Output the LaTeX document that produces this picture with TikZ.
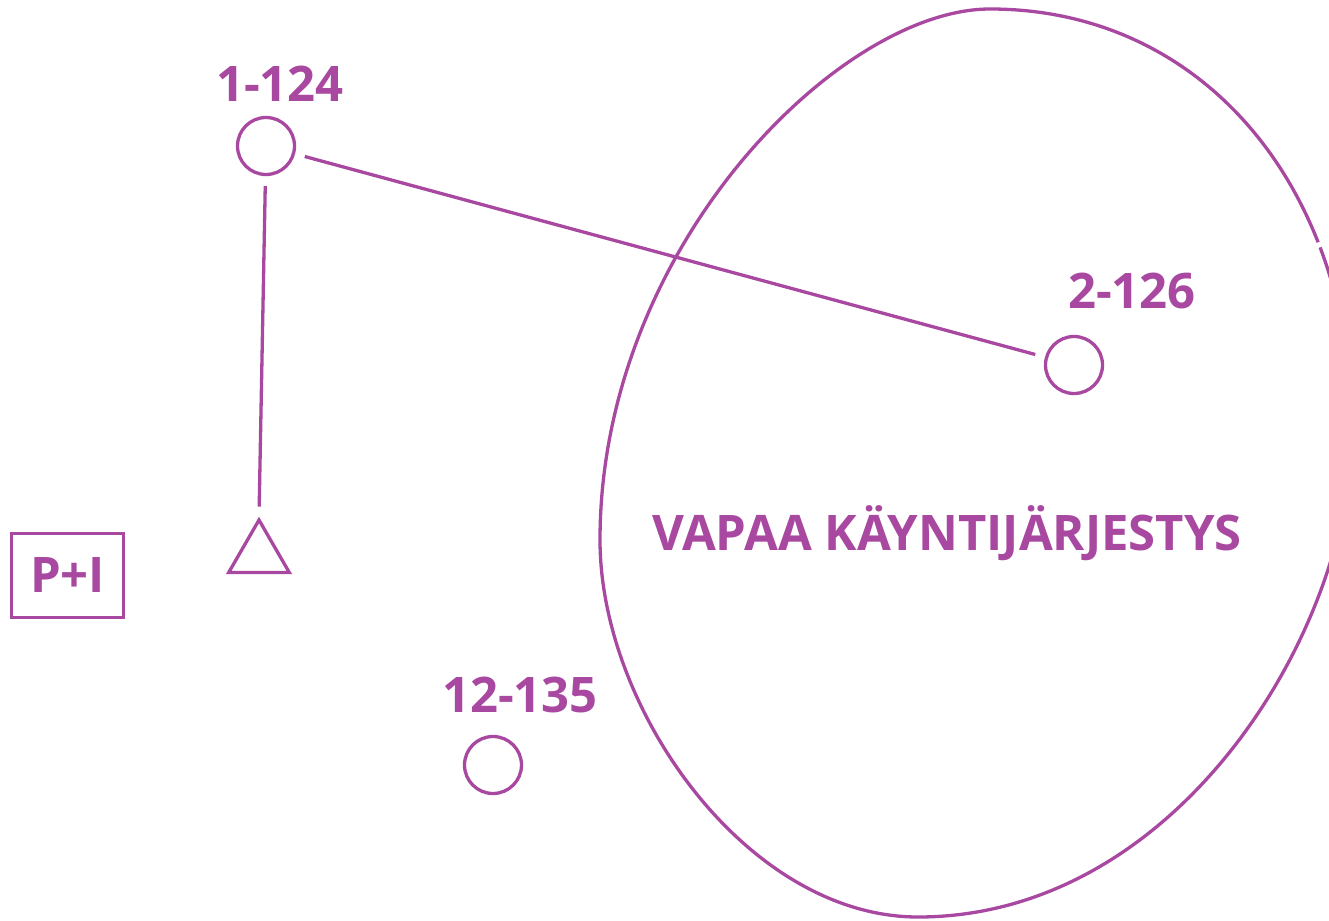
\documentclass[tikz,border=0pt]{standalone}
\usepackage{fontspec}
\setmainfont{Open Sans}
\usetikzlibrary{shapes.geometric, positioning}
\definecolor{routepurple}{RGB}{168, 72, 160}

\begin{document}
\begin{tikzpicture}[x=1pt, y=-1pt,
    stopring/.style={circle, draw=routepurple, line width=3.3pt, minimum size=57pt, inner sep=0pt},
    stoplabel/.style={text=routepurple, font=\fontsize{49pt}{52pt}\selectfont\bfseries, inner sep=0pt},
    link/.style={draw=routepurple, line width=3.3pt, shorten <=10pt, shorten >=10pt}]
    \useasboundingbox (0,0) rectangle (1329,920);

    % free walking area
    \draw[routepurple, line width=3.3pt] (600,540) .. controls (600,247) and (840,9) .. (990,9)
        .. controls (1205,9) and (1352,190) .. (1352,430)
        .. controls (1352,630) and (1178,917) .. (918,917)
        .. controls (748,917) and (600,710) .. (600,540) -- cycle;
    \coordinate (gap) at (1318.5,245);
    \draw[white, line width=7pt] ([shift={(-0.8,-2.5)}]gap) -- ([shift={(0.8,2.5)}]gap);

    % stops
    \node[stopring] (s1) at (266,146) {};
    \node[stopring] (s2) at (1074,365) {};
    \node[stopring] (s12) at (493,765) {};
    \node[stoplabel, anchor=base] (s1label) at (280,102) {1-124};
    \node[stoplabel, anchor=base] (s2label) at (1132,308) {2-126};
    \node[stoplabel, anchor=base] (s12label) at (520,712) {12-135};
    \node[stoplabel, anchor=base] (zone) at (947,550) {VAPAA KÄYNTIJÄRJESTYS};

    \node[regular polygon, regular polygon sides=3, draw=routepurple, line width=3.3pt,
          minimum size=70pt, inner sep=0pt] (tri) at (259,555) {};
    \node[draw=routepurple, line width=3.3pt, minimum width=112pt, minimum height=84pt,
          text=routepurple, font=\fontsize{49pt}{52pt}\selectfont\bfseries] (park) at (67.5,575.5) {P+I};

    \draw[link] (s1) -- (s2);
    \draw[link] (s1) -- (tri.corner 1);
\end{tikzpicture}
\end{document}
